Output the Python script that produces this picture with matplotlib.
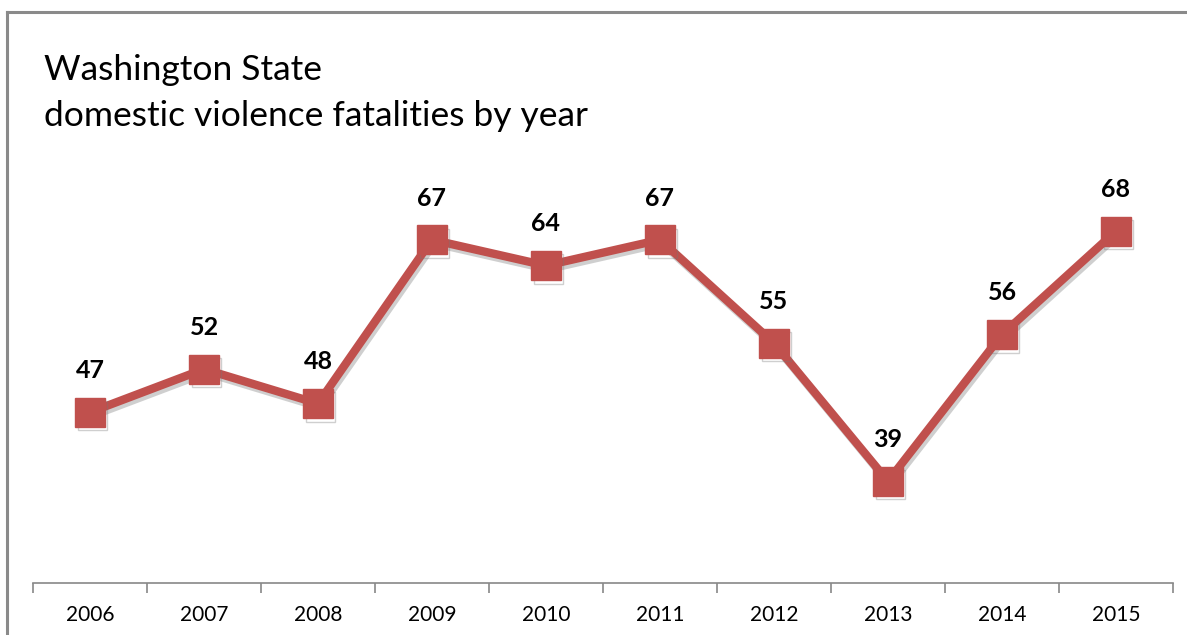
import numpy as np
import matplotlib.pyplot as plt
import matplotlib.patheffects as pe

# data
years = ['2006', '2007', '2008', '2009', '2010', '2011', '2012', '2013', '2014', '2015']
fatalities = [47, 52, 48, 67, 64, 67, 55, 39, 56, 68]

W, H = 1187, 635
fig = plt.figure(figsize=(W / 100, H / 100), dpi=100)
plt.rcParams['font.family'] = ['Lato', 'DejaVu Sans']

# outer frame (left + top, gray)
fig.add_artist(plt.Line2D([7 / W, 7 / W], [0, 1 - 12 / H], color='#8a8a8a', lw=2.2,
                          transform=fig.transFigure))
fig.add_artist(plt.Line2D([7 / W, 1], [1 - 12 / H, 1 - 12 / H], color='#8a8a8a', lw=2.2,
                          transform=fig.transFigure))

# axes placed in pixels
ax_left, ax_right = 33, 1173
ax_bottom, ax_top = 583, 12
ax = fig.add_axes([ax_left / W, 1 - ax_bottom / H, (ax_right - ax_left) / W, (ax_bottom - ax_top) / H])

x = np.arange(len(years))
red = '#c0504d'
shadow = [pe.SimpleLineShadow(offset=(1.5, -2.5), shadow_color='#777777', alpha=0.35), pe.Normal()]
ax.plot(x, fatalities, color=red, lw=6, marker='s', markersize=21,
        markerfacecolor=red, markeredgecolor=red, solid_joinstyle='miter',
        path_effects=shadow, zorder=3)

for xi, v in zip(x, fatalities):
    ax.annotate(str(v), (xi, v), xytext=(0, 30), textcoords='offset points',
                ha='center', va='center', fontsize=18, fontweight='bold', color='black')

ax.set_xlim(-0.5, len(years) - 0.5)
ax.set_ylim(27.2, 93.4)

for s in ['left', 'right', 'top']:
    ax.spines[s].set_visible(False)
ax.spines['bottom'].set_color('#888888')
ax.spines['bottom'].set_linewidth(1.2)
ax.set_yticks([])
ax.set_xticks(np.arange(-0.5, len(years), 1.0))
ax.set_xticklabels([])
ax.set_xticks(x, minor=True)
ax.set_xticklabels(years, minor=True, fontsize=15)
ax.tick_params(axis='x', which='major', length=7, color='#888888', width=1.2)
ax.tick_params(axis='x', which='minor', length=0, pad=16)

fig.text(44 / W, 1 - 70 / H, 'Washington State', fontsize=25.5, va='center', ha='left')
fig.text(44 / W, 1 - 116 / H, 'domestic violence fatalities by year', fontsize=25.5,
         va='center', ha='left')

fig.savefig('out.png', dpi=100)
